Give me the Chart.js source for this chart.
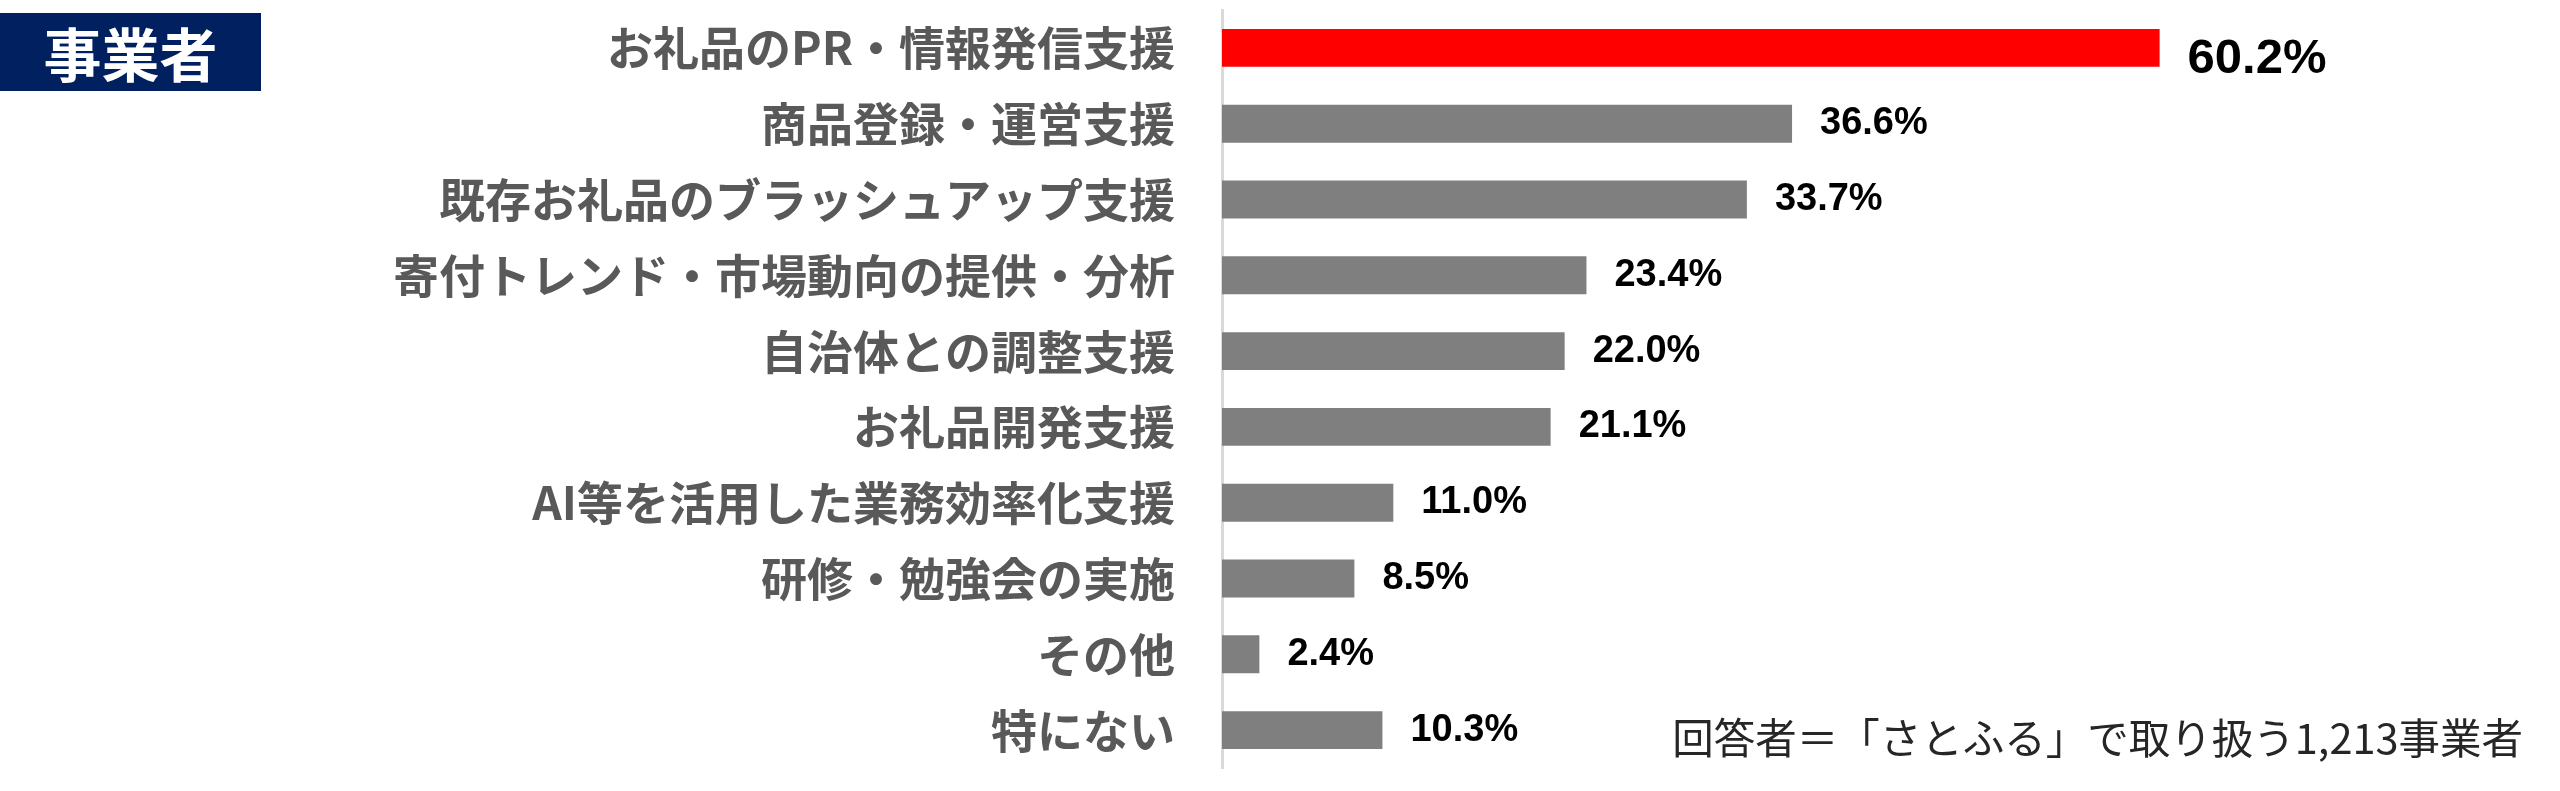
<!DOCTYPE html>
<html lang="ja">
<head>
<meta charset="utf-8">
<script src="https://cdn.jsdelivr.net/npm/chart.js@4"></script>
<style>
  body { margin: 0; background: #fff; }
  #wrap { position: relative; width: 2560px; height: 791px; }
  #title {
    position: absolute; left: 0; top: 13px; width: 261px; height: 78px;
    background: #002060; color: #fff;
    font: bold 58px "Noto Sans CJK JP", sans-serif;
    display: flex; align-items: center; justify-content: center;
  }
  #note {
    position: absolute; right: 37px; top: 708px;
    font: 400 41.5px "Noto Sans CJK JP", sans-serif; color: #262626;
    white-space: nowrap; line-height: 56px;
  }
</style>
</head>
<body>
<div id="wrap">
  <canvas id="chart"></canvas>
  <div id="title">事業者</div>
  <div id="note">回答者＝「さとふる」で取り扱う1,213事業者</div>
</div>
<script>
const categories = [
  "お礼品のPR・情報発信支援",
  "商品登録・運営支援",
  "既存お礼品のブラッシュアップ支援",
  "寄付トレンド・市場動向の提供・分析",
  "自治体との調整支援",
  "お礼品開発支援",
  "AI等を活用した業務効率化支援",
  "研修・勉強会の実施",
  "その他",
  "特にない"
];
const values = [60.2, 36.6, 33.7, 23.4, 22.0, 21.1, 11.0, 8.5, 2.4, 10.3];
const barColors = ["#ff0000", "#7f7f7f", "#7f7f7f", "#7f7f7f", "#7f7f7f",
  "#7f7f7f", "#7f7f7f", "#7f7f7f", "#7f7f7f", "#7f7f7f"];

// value labels right of the bars, the first one bigger and a bit lower
const valueLabels = {
  id: "valueLabels",
  afterDatasetsDraw(chart) {
    const ctx = chart.ctx;
    const meta = chart.getDatasetMeta(0);
    ctx.save();
    ctx.fillStyle = "#000";
    ctx.textAlign = "left";
    ctx.textBaseline = "middle";
    meta.data.forEach((bar, i) => {
      const big = i === 0;
      ctx.font = "bold " + (big ? 49 : 38) + "px 'Liberation Sans', Arial, sans-serif";
      ctx.fillText(values[i].toFixed(1) + "%", bar.x + 28, bar.y + (big ? 12 : 0));
    });
    ctx.restore();
  }
};

new Chart(document.getElementById("chart"), {
  type: "bar",
  data: {
    labels: categories,
    datasets: [{
      data: values,
      backgroundColor: barColors,
      borderWidth: 0,
      categoryPercentage: 1,
      barPercentage: 0.5
    }]
  },
  options: {
    indexAxis: "y",
    responsive: true,
    maintainAspectRatio: false,
    devicePixelRatio: 1,
    animation: false,
    layout: { padding: { left: 0, top: 10, right: 92, bottom: 23 } },
    plugins: { legend: { display: false }, tooltip: { enabled: false } },
    scales: {
      x: { display: false, min: 0, max: 80 },
      y: {
        afterFit(scale) {
          scale.width = 1222;
          // tick padding would otherwise push the chart area in
          scale.paddingTop = 0;
          scale.paddingBottom = 0;
        },
        grid: { display: false, drawTicks: false },
        border: { display: true, color: "#d9d9d9", width: 3 },
        ticks: {
          padding: 47,
          color: "#595959",
          font: { family: "'Noto Sans CJK JP'", size: 46, weight: "bold" }
        }
      }
    }
  },
  plugins: [valueLabels]
});
</script>
</body>
</html>
